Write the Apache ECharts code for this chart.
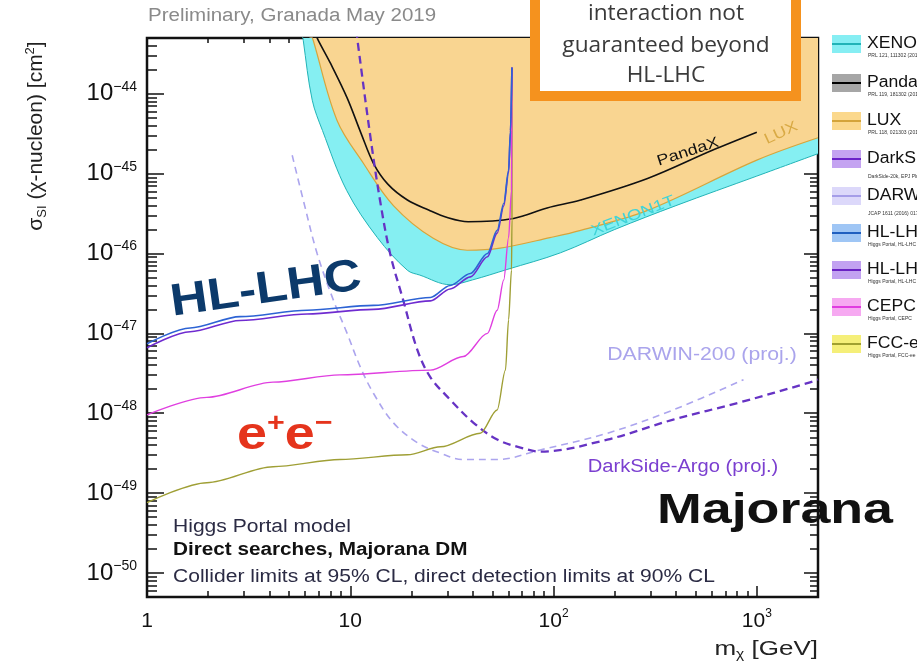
<!DOCTYPE html>
<html><head><meta charset="utf-8">
<script src="https://cdn.jsdelivr.net/npm/echarts@6/dist/echarts.min.js"></script>
<style>html,body{margin:0;padding:0;background:#fff}#c{width:917px;height:666px}</style>
</head><body><div id="c"></div>
<script>
// ---------- data (m_chi in GeV, sigma_SI in cm^2) ----------
const xenonMass  = [5.8, 5.87, 6.5, 7.3, 9.6, 13.6, 19.1, 22, 31, 40, 59, 108, 200, 400, 1000, 2000];
const xenonSigma = [6.31e-44, 4.68e-44, 8.32e-45, 3.47e-45, 6.17e-46, 1.58e-46, 6.17e-47, 5.37e-47, 4.07e-47, 4.68e-47, 6.31e-47, 1.02e-46, 2.0e-46, 3.98e-46, 9.33e-46, 1.78e-45];

const luxMass  = [6.3, 6.57, 8.6, 11.6, 16.3, 25.6, 37.6, 54.7, 96, 136, 290, 1000, 2000];
const luxSigma = [6.31e-44, 4.68e-44, 4.68e-45, 1.35e-45, 3.98e-46, 1.55e-46, 1.10e-46, 1.17e-46, 1.58e-46, 1.95e-46, 3.47e-46, 1.48e-45, 2.82e-45];

const pandaxMass  = [6.6, 6.96, 8.0, 9.65, 11.3, 13, 15.3, 19.1, 24.3, 30, 38, 63.5, 93, 136, 290, 600, 1000];
const pandaxSigma = [6.31e-44, 4.68e-44, 2.4e-44, 8.91e-45, 3.2e-45, 1.35e-45, 7.4e-46, 4.68e-46, 3.5e-46, 2.82e-46, 2.5e-46, 2.75e-46, 3.72e-46, 4.68e-46, 8.71e-46, 1.95e-45, 3.31e-45];

const darksideMass  = [10.7, 10.9, 12.5, 14.0, 15.7, 18.2, 21.4, 24.8, 31, 40.4, 52.8, 68.7, 86.1, 184, 388, 836, 1790, 2000];
const darksideSigma = [6.31e-44, 4.27e-44, 3.16e-45, 4.68e-46, 1.0e-46, 2.63e-47, 6.17e-48, 2.82e-48, 1.48e-48, 7.59e-49, 4.68e-49, 3.72e-49, 3.31e-49, 4.68e-49, 8.32e-49, 1.38e-48, 2.40e-48, 2.63e-48];

const darwinMass  = [5.18, 5.87, 6.87, 8.25, 9.65, 11.2, 13.0, 16.3, 21.4, 27.8, 36, 52.8, 86, 184, 388, 860];
const darwinSigma = [1.70e-45, 4.68e-46, 1.0e-46, 2.63e-47, 1.0e-47, 3.80e-48, 1.78e-48, 7.59e-49, 4.27e-49, 3.16e-49, 2.63e-49, 2.63e-49, 3.47e-49, 5.62e-49, 1.10e-48, 2.63e-48];

const hllhcMass       = [1, 1.63, 2.87, 6.14, 13, 24.8, 31, 39, 47.3, 52.8, 56.9, 60.1, 61.4, 62.4];
const hllhcBlueSigma  = [7.41e-48, 1.17e-47, 1.62e-47, 1.95e-47, 2.24e-47, 2.82e-47, 3.98e-47, 5.62e-47, 1.0e-46, 1.95e-46, 4.27e-46, 1.10e-45, 3.47e-45, 2.14e-44];
const hllhcPurpSigma  = [6.6e-48, 1.05e-47, 1.45e-47, 1.75e-47, 2.0e-47, 2.55e-47, 3.6e-47, 5.1e-47, 9.1e-47, 1.8e-46, 3.95e-46, 1.03e-45, 3.3e-45, 2.14e-44];

const cepcMass  = [1, 1.97, 4.17, 8.9, 24.8, 36, 47.3, 52.8, 56.9, 60.1, 62.1, 62.45];
const cepcSigma = [9.55e-49, 1.58e-48, 2.45e-48, 3.02e-48, 3.47e-48, 5.13e-48, 1.0e-47, 1.95e-47, 4.68e-47, 1.58e-46, 6.17e-46, 2.14e-44];

const fccMass  = [1, 1.97, 4.17, 8.9, 19.1, 27.8, 43.6, 52.8, 58, 60.1, 62.1, 62.45, 62.49];
const fccSigma = [7.59e-50, 1.35e-49, 2.14e-49, 2.63e-49, 3.02e-49, 3.80e-49, 5.62e-49, 1.10e-48, 3.47e-48, 1.48e-47, 6.17e-47, 2.63e-46, 2.14e-44];

// axis ranges and tick labels
const X_MIN = 1, X_MAX = 2000;
const Y_MIN = 5e-51, Y_MAX = 5e-44;
const xTickLabels = [1, 10, 100, 1000];
const yTickExponents = [-50, -49, -48, -47, -46, -45, -44];

// legend entries
const legendNames = ['XENON1T', 'PandaX-II', 'LUX', 'DarkSide-Argo', 'DARWIN-200', 'HL-LHC', 'HL-LHC', 'CEPC', 'FCC-ee'];
const legendRefs  = ['PRL 121, 111302 (2018)', 'PRL 119, 181302 (2017)', 'PRL 118, 021303 (2017)', 'DarkSide-20k, EPJ Plus 133 (2018)', 'JCAP 1611 (2016) 017', 'Higgs Portal, HL-LHC', 'Higgs Portal, HL-LHC', 'Higgs Portal, CEPC', 'Higgs Portal, FCC-ee'];

// ---------- helpers ----------
// y is plotted in units of 1e-50 cm^2 so the log scale works in a float-friendly range
const Y_UNIT = 1e-50, Y_UNIT_EXP = -50;
const pts = (ms, ss) => ms.map((m, i) => [m, ss[i] / Y_UNIT]);
const FONT = '"Liberation Sans", Arial, sans-serif';

function decadeTicks(lo, hi, minor) {
  const out = [];
  for (let e = Math.floor(Math.log10(lo)) - 1; e <= Math.ceil(Math.log10(hi)); e++) {
    const ds = minor ? [2,3,4,5,6,7,8,9] : [1];
    ds.forEach(d => { const v = Number((d * Math.pow(10, e)).toPrecision(6)); if (v >= lo && v <= hi) out.push(v); });
  }
  return out;
}
const yLo = Y_MIN / Y_UNIT, yHi = Y_MAX / Y_UNIT;
const xMajor = decadeTicks(X_MIN, X_MAX, false), xMinor = decadeTicks(X_MIN, X_MAX, true);
const yMajor = yTickExponents.map(e => Math.pow(10, e - Y_UNIT_EXP));
const yMinor = decadeTicks(yLo, yHi, true);

const tickStyle = { color: '#111', width: 1.5 };
function xAx(pos, ticks, len, labels) {
  return {
    type: 'log', logBase: 10, min: X_MIN, max: X_MAX, position: pos,
    axisLine: { show: false, onZero: false }, splitLine: { show: false },
    axisTick: { show: true, inside: true, length: len, customValues: ticks, lineStyle: tickStyle },
    axisLabel: labels ? {
      show: true, customValues: xTickLabels, margin: 11, fontFamily: FONT,
      formatter: v => { const e = Math.round(Math.log10(v)); return e < 2 ? '{b|' + Math.round(v) + '}' : '{b|10}{s|' + e + '}'; },
      rich: { b: { fontSize: 21, fontFamily: FONT, color: '#111', lineHeight: 26 },
              s: { fontSize: 12, fontFamily: FONT, color: '#111', verticalAlign: 'top', lineHeight: 14 } }
    } : { show: false }
  };
}
function yAx(pos, ticks, len, labels) {
  return {
    type: 'log', logBase: 10, min: yLo, max: yHi, position: pos,
    axisLine: { show: false, onZero: false }, splitLine: { show: false },
    axisTick: { show: true, inside: true, length: len, customValues: ticks, lineStyle: tickStyle },
    axisLabel: labels ? {
      show: true, customValues: yMajor, margin: 10, fontFamily: FONT,
      formatter: v => '{b|10}{s|\u2212' + Math.abs(Math.round(Math.log10(v)) + Y_UNIT_EXP) + '}',
      rich: { b: { fontSize: 24, fontFamily: FONT, color: '#111', lineHeight: 28 },
              s: { fontSize: 14, fontFamily: FONT, color: '#111', verticalAlign: 'top', lineHeight: 15 } }
    } : { show: false }
  };
}

function lineSeries(name, ms, ss, color, width, extra) {
  return Object.assign({
    name, type: 'line', data: pts(ms, ss), showSymbol: false, symbol: 'none',
    smooth: 0.35, clip: true, silent: true,
    lineStyle: { color, width }
  }, extra || {});
}

// ---------- graphic (annotations, legend, titles) ----------
const deg = a => a * Math.PI / 180;
function T(x, y, text, font, fill, opt) {
  opt = opt || {};
  const style = Object.assign({ text, font, fill, align: 'left', verticalAlign: 'middle', textAlign: 'left', textVerticalAlign: 'middle' }, opt.style || {});
  const el = { type: 'text', x, y, z: 100, style };
  ['rotation', 'scaleX', 'scaleY'].forEach(k => { if (opt[k] !== undefined) el[k] = opt[k]; });
  return el;
}
const C = { style: { align: 'center', textAlign: 'center' } };

const legendBox  = ['#86eef3', '#a6a6a6', '#fbd88c', '#c4a3f1', '#dcd8fa', '#9fc6f5', '#c2a2f1', '#f6a9f1', '#f5ef79'];
const legendLine = ['#21b3b7', '#000000', '#d4a43a', '#6a22c8', '#a59de8', '#1f5fc0', '#6a22c4', '#e03ce0', '#a0a030'];
const legendY    = [44, 83, 121, 159, 196, 233, 270, 307, 344];
const legendRefDy = [12, 12, 12, 18, 18, 12, 12, 12, 12];
const legendEls = [];
legendNames.forEach((n, i) => {
  const yc = legendY[i];
  legendEls.push({ type: 'rect', z: 100, shape: { x: 832, y: yc - 9, width: 29, height: 18 }, style: { fill: legendBox[i] } });
  legendEls.push({ type: 'line', z: 101, shape: { x1: 832, y1: yc, x2: 861, y2: yc }, style: { stroke: legendLine[i], lineWidth: 2 } });
  legendEls.push(T(867, yc, n, '16px ' + FONT, '#111', { scaleX: 1.1 }));
  legendEls.push(T(868, yc + legendRefDy[i], legendRefs[i], '5px ' + FONT, '#333'));
});

const boxFont = '21px "Open Sans", sans-serif';
const noteFont = '18px ' + FONT;
const graphics = [
  T(148, 16, 'Preliminary, Granada May 2019', '18px ' + FONT, '#8a8a8a', { scaleX: 1.14 }),
  // orange box
  { type: 'rect', z: 100, shape: { x: 535, y: -30, width: 261, height: 126 }, style: { fill: '#ffffff', stroke: '#f5921e', lineWidth: 10 } },
  T(666, 14, 'interaction not', boxFont, '#3a3a3a', Object.assign({ scaleX: 1.08 }, C)),
  T(666, 46, 'guaranteed beyond', boxFont, '#3a3a3a', Object.assign({ scaleX: 1.08 }, C)),
  T(666, 76, 'HL-LHC', boxFont, '#3a3a3a', Object.assign({ scaleX: 1.08 }, C)),
  // axis titles
  { type: 'text', z: 100, x: 36, y: 136, rotation: Math.PI / 2,
    style: { text: '{a|\u03c3}{s|SI}{a| (\u03c7-nucleon) [cm}{p|2}{a|]}', align: 'center', verticalAlign: 'middle', textAlign: 'center', textVerticalAlign: 'middle',
      rich: { a: { fontSize: 21, fontFamily: FONT, fill: '#222', lineHeight: 25 },
              s: { fontSize: 13, fontFamily: FONT, fill: '#222', verticalAlign: 'bottom', lineHeight: 14 },
              p: { fontSize: 13, fontFamily: FONT, fill: '#222', verticalAlign: 'top', lineHeight: 14 } } } },
  { type: 'text', z: 100, x: 818, y: 649, scaleX: 1.3,
    style: { text: '{a|m}{s|\u03c7}{a| [GeV]}', align: 'right', verticalAlign: 'middle', textAlign: 'right', textVerticalAlign: 'middle',
      rich: { a: { fontSize: 20, fontFamily: FONT, fill: '#222', lineHeight: 24 },
              s: { fontSize: 12, fontFamily: FONT, fill: '#222', verticalAlign: 'bottom', lineHeight: 12 } } } },
  // big labels
  T(266, 290, 'HL-LHC', 'bold 45px ' + FONT, '#0c3a6b', Object.assign({ rotation: deg(8), scaleX: 1.15 }, C)),
  { type: 'text', z: 100, x: 237, y: 436, scaleX: 1.17,
    style: { text: '{e|e}{p|+}{e|e}{p|\u2212}', align: 'left', verticalAlign: 'middle', textAlign: 'left', textVerticalAlign: 'middle',
      rich: { e: { fontSize: 46, fontWeight: 'bold', fontFamily: FONT, fill: '#e5341c', lineHeight: 50 },
              p: { fontSize: 26, fontWeight: 'bold', fontFamily: FONT, fill: '#e5341c', verticalAlign: 'top', lineHeight: 30 } } } },
  T(657, 511, 'Majorana', 'bold 42px ' + FONT, '#111', { scaleX: 1.28 }),
  // bottom-left block
  T(173, 527, 'Higgs Portal model', noteFont, '#2b2b44', { scaleX: 1.17 }),
  T(173, 550, 'Direct searches, Majorana DM', 'bold 18px ' + FONT, '#111', { scaleX: 1.15 }),
  T(173, 577, 'Collider limits at 95% CL, direct detection limits at 90% CL', noteFont, '#2b2b44', { scaleX: 1.17 }),
  // curve labels
  T(688, 152, 'PandaX', '15px ' + FONT, '#111', Object.assign({ rotation: deg(18), scaleX: 1.2 }, C)),
  T(781, 133, 'LUX', '15px ' + FONT, '#d9aa45', Object.assign({ rotation: deg(25), scaleX: 1.2 }, C)),
  T(633, 216, 'XENON1T', '15px ' + FONT, '#3fd3d8', Object.assign({ rotation: deg(21), scaleX: 1.25 }, C)),
  T(702, 355, 'DARWIN-200 (proj.)', '18px ' + FONT, '#aaa4ec', Object.assign({ scaleX: 1.18 }, C)),
  T(683, 467, 'DarkSide-Argo (proj.)', '18px ' + FONT, '#7b3fd0', Object.assign({ scaleX: 1.12 }, C))
].concat(legendEls);

// ---------- chart ----------
const chart = echarts.init(document.getElementById('c'), null, { renderer: 'canvas' });
const spike = { smoothMonotone: 'x', smooth: 0.3 };
chart.setOption({
  animation: false,
  backgroundColor: '#ffffff',
  grid: { left: 147, right: 99, top: 38, bottom: 69, show: true, borderColor: '#111', borderWidth: 2.5, backgroundColor: 'transparent', containLabel: false, outerBoundsMode: 'none' },
  xAxis: [ xAx('bottom', xMajor, 11, true), xAx('bottom', xMinor, 6, false), xAx('top', xMajor, 9, false), xAx('top', xMinor, 5, false) ],
  yAxis: [ yAx('left', yMajor, 17, true), yAx('left', yMinor, 10, false), yAx('right', yMajor, 14, false), yAx('right', yMinor, 8, false) ],
  series: [
    lineSeries('XENON1T', xenonMass, xenonSigma, '#22b3b6', 1, { z: 1, areaStyle: { origin: 'end', color: '#85eff2', opacity: 1 } }),
    lineSeries('LUX', luxMass, luxSigma, '#d6a53c', 1.2, { z: 2, areaStyle: { origin: 'end', color: '#f9d591', opacity: 1 } }),
    lineSeries('PandaX', pandaxMass, pandaxSigma, '#111111', 1.6, { z: 3 }),
    lineSeries('DARWIN-200', darwinMass, darwinSigma, '#aca5ee', 1.6, { z: 4, lineStyle: { color: '#aca5ee', width: 1.6, type: [7, 5] } }),
    lineSeries('DarkSide-Argo', darksideMass, darksideSigma, '#6633c4', 2.3, { z: 5, lineStyle: { color: '#6633c4', width: 2.3, type: [8, 5] } }),
    lineSeries('FCC-ee', fccMass, fccSigma, '#9f9f35', 1.4, Object.assign({ z: 6 }, spike)),
    lineSeries('CEPC', cepcMass, cepcSigma, '#e03fe0', 1.4, Object.assign({ z: 7 }, spike)),
    lineSeries('HL-LHC (2)', hllhcMass, hllhcPurpSigma, '#6f2bd0', 1.6, Object.assign({ z: 8 }, spike)),
    lineSeries('HL-LHC', hllhcMass, hllhcBlueSigma, '#2d63d4', 1.6, Object.assign({ z: 9 }, spike))
  ],
  graphic: { elements: graphics }
});
</script></body></html>
